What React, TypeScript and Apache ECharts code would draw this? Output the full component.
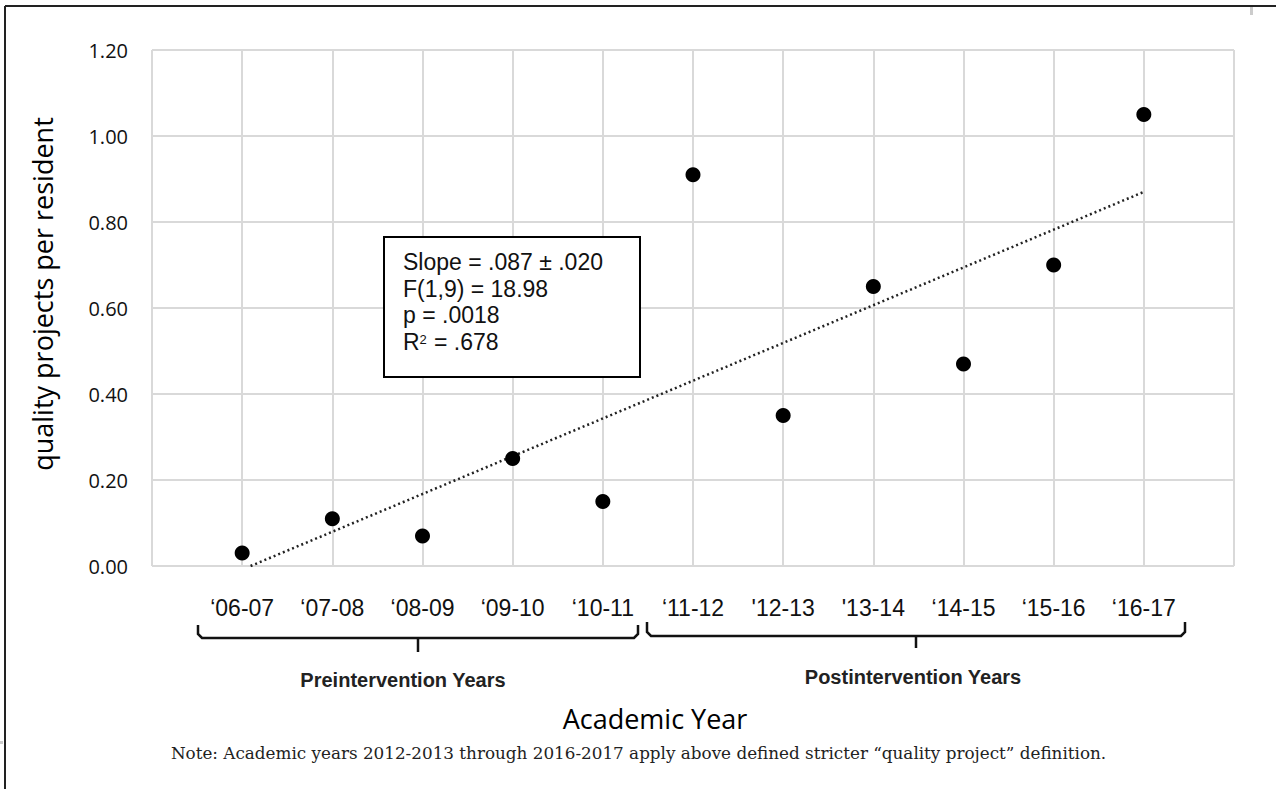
import React, { useEffect, useRef } from "react";
import * as echarts from "echarts";

const categories = ["‘06-07", "‘07-08", "‘08-09", "‘09-10", "‘10-11", "‘11-12", "'12-13", "'13-14", "‘14-15", "‘15-16", "‘16-17"];
const projectsPerResident = [0.03, 0.11, 0.07, 0.25, 0.15, 0.91, 0.35, 0.65, 0.47, 0.7, 1.05];
const yTickLabels = ["0.00", "0.20", "0.40", "0.60", "0.80", "1.00", "1.20"];
const statsLines = ["Slope = .087 ± .020", "F(1,9) = 18.98", "p = .0018"];
const rSquared = ".678";
const groupLabels = ["Preintervention Years", "Postintervention Years"];
const xTitle = "Academic Year";
const yTitle = "quality projects per resident";
const note = "Note: Academic years 2012-2013 through 2016-2017 apply above defined stricter “quality project” definition.";

function trendLine(): number[][] {
  const n = projectsPerResident.length;
  const xs = projectsPerResident.map((_, i) => i + 1);
  const xbar = xs.reduce((a, b) => a + b, 0) / n;
  const ybar = projectsPerResident.reduce((a, b) => a + b, 0) / n;
  let sxy = 0;
  let sxx = 0;
  xs.forEach((x, i) => {
    sxy += (x - xbar) * (projectsPerResident[i] - ybar);
    sxx += (x - xbar) * (x - xbar);
  });
  const m = sxy / sxx;
  const a = ybar - m * xbar;
  const xStart = Math.max(1, -a / m);
  const xEnd = n;
  return [
    [xStart, a + m * xStart],
    [xEnd, a + m * xEnd],
  ];
}

export default function App() {
  const ref = useRef<HTMLDivElement>(null);
  useEffect(() => {
    if (!ref.current) return;
    const chart = echarts.init(ref.current, undefined, { renderer: "svg" });
    const sans = '"Liberation Sans", Arial, sans-serif';
    const calibri = '"Open Sans", sans-serif';
    const statsFont = { fontSize: 23, fontFamily: sans, fill: "#111" };
    const option: any = {
      animation: false,
      backgroundColor: "#fff",
      grid: { left: 152, right: 42, top: 50, bottom: 223, containLabel: false },
      xAxis: {
        type: "value",
        min: 0,
        max: 12,
        interval: 1,
        axisLine: { show: false },
        axisTick: { show: false },
        splitLine: { show: true, lineStyle: { color: "#d9d9d9", width: 2 } },
        axisLabel: {
          margin: 30,
          fontSize: 23,
          lineHeight: 23,
          fontFamily: sans,
          color: "#111",
          formatter: (v: number) => (v >= 1 && v <= categories.length ? categories[v - 1] : ""),
        },
      },
      yAxis: {
        type: "value",
        min: 0,
        max: 1.2,
        interval: 0.2,
        axisLine: { show: false },
        axisTick: { show: false },
        splitLine: { show: true, lineStyle: { color: "#d9d9d9", width: 2 } },
        axisLabel: {
          margin: 24,
          fontSize: 20,
          fontFamily: calibri,
          color: "#111",
          formatter: (v: number) => yTickLabels[Math.round(v / 0.2)] ?? "",
        },
      },
      series: [
        {
          type: "line",
          data: trendLine(),
          symbol: "none",
          lineStyle: { color: "#222", width: 2.5, type: [2, 3] },
          z: 3,
        },
        {
          type: "scatter",
          data: projectsPerResident.map((v, i) => [i + 1, v]),
          symbol: "circle",
          symbolSize: 15,
          itemStyle: { color: "#000", opacity: 1 },
          z: 4,
        },
      ],
      graphic: [
        { type: "line", shape: { x1: 5, y1: 6, x2: 1276, y2: 6 }, style: { stroke: "#222", lineWidth: 2 }, z: 100 },
        { type: "line", shape: { x1: 5, y1: 6, x2: 5, y2: 789 }, style: { stroke: "#222", lineWidth: 2 }, z: 100 },
        { type: "rect", shape: { x: 1250, y: 7, width: 3, height: 8 }, style: { fill: "#ccc" }, z: 100 },
        { type: "rect", shape: { x: 0, y: 741, width: 3, height: 3 }, style: { fill: "#ccc" }, z: 100 },
        {
          type: "text",
          x: 42,
          y: 294,
          rotation: Math.PI / 2,
          style: { text: yTitle, fontSize: 27, fontFamily: calibri, fill: "#000", align: "center", verticalAlign: "middle" },
          z: 100,
        },
        {
          type: "rect",
          shape: { x: 384, y: 237, width: 256, height: 140 },
          style: { fill: "#fff", stroke: "#000", lineWidth: 2 },
          z: 100,
        },
        ...statsLines.map((t, i) => ({
          type: "text",
          x: 403,
          y: 262 + i * 26.5,
          style: { text: t, ...statsFont, align: "left", verticalAlign: "middle" },
          z: 101,
        })),
        { type: "text", x: 403, y: 341.5, style: { text: "R", ...statsFont, align: "left", verticalAlign: "middle" }, z: 101 },
        {
          type: "text",
          x: 419.5,
          y: 333,
          style: { text: "2", fontSize: 13, fontFamily: sans, fill: "#111", align: "left", verticalAlign: "top" },
          z: 101,
        },
        { type: "text", x: 434, y: 341.5, style: { text: "= " + rSquared, ...statsFont, align: "left", verticalAlign: "middle" }, z: 101 },
        {
          type: "polyline",
          shape: { points: [[198, 625], [198, 634], [202, 638], [634, 638], [638, 634], [638, 625]] },
          style: { stroke: "#111", lineWidth: 2.5, fill: null },
          z: 100,
        },
        { type: "line", shape: { x1: 418, y1: 638, x2: 418, y2: 652 }, style: { stroke: "#111", lineWidth: 2.5 }, z: 100 },
        {
          type: "polyline",
          shape: { points: [[647, 622], [647, 632], [651, 636], [1181, 636], [1185, 632], [1185, 622]] },
          style: { stroke: "#111", lineWidth: 2.5, fill: null },
          z: 100,
        },
        { type: "line", shape: { x1: 916, y1: 636, x2: 916, y2: 648 }, style: { stroke: "#111", lineWidth: 2.5 }, z: 100 },
        {
          type: "text",
          x: 403,
          y: 680,
          style: { text: groupLabels[0], fontSize: 20, fontWeight: "bold", fontFamily: sans, fill: "#222", align: "center", verticalAlign: "middle" },
          z: 100,
        },
        {
          type: "text",
          x: 913,
          y: 677,
          style: { text: groupLabels[1], fontSize: 20, fontWeight: "bold", fontFamily: sans, fill: "#222", align: "center", verticalAlign: "middle" },
          z: 100,
        },
        {
          type: "text",
          x: 655,
          y: 718,
          style: { text: xTitle, fontSize: 27, fontFamily: calibri, fill: "#000", align: "center", verticalAlign: "middle" },
          z: 100,
        },
        {
          type: "text",
          x: 638.5,
          y: 753,
          style: { text: note, fontSize: 16.8, fontFamily: '"DejaVu Serif", serif', fill: "#222", align: "center", verticalAlign: "middle" },
          z: 100,
        },
      ],
    };
    chart.setOption(option);
    return () => chart.dispose();
  }, []);
  return <div ref={ref} style={{ position: "fixed", left: 0, top: 0, width: 1276, height: 789, background: "#fff" }} />;
}
